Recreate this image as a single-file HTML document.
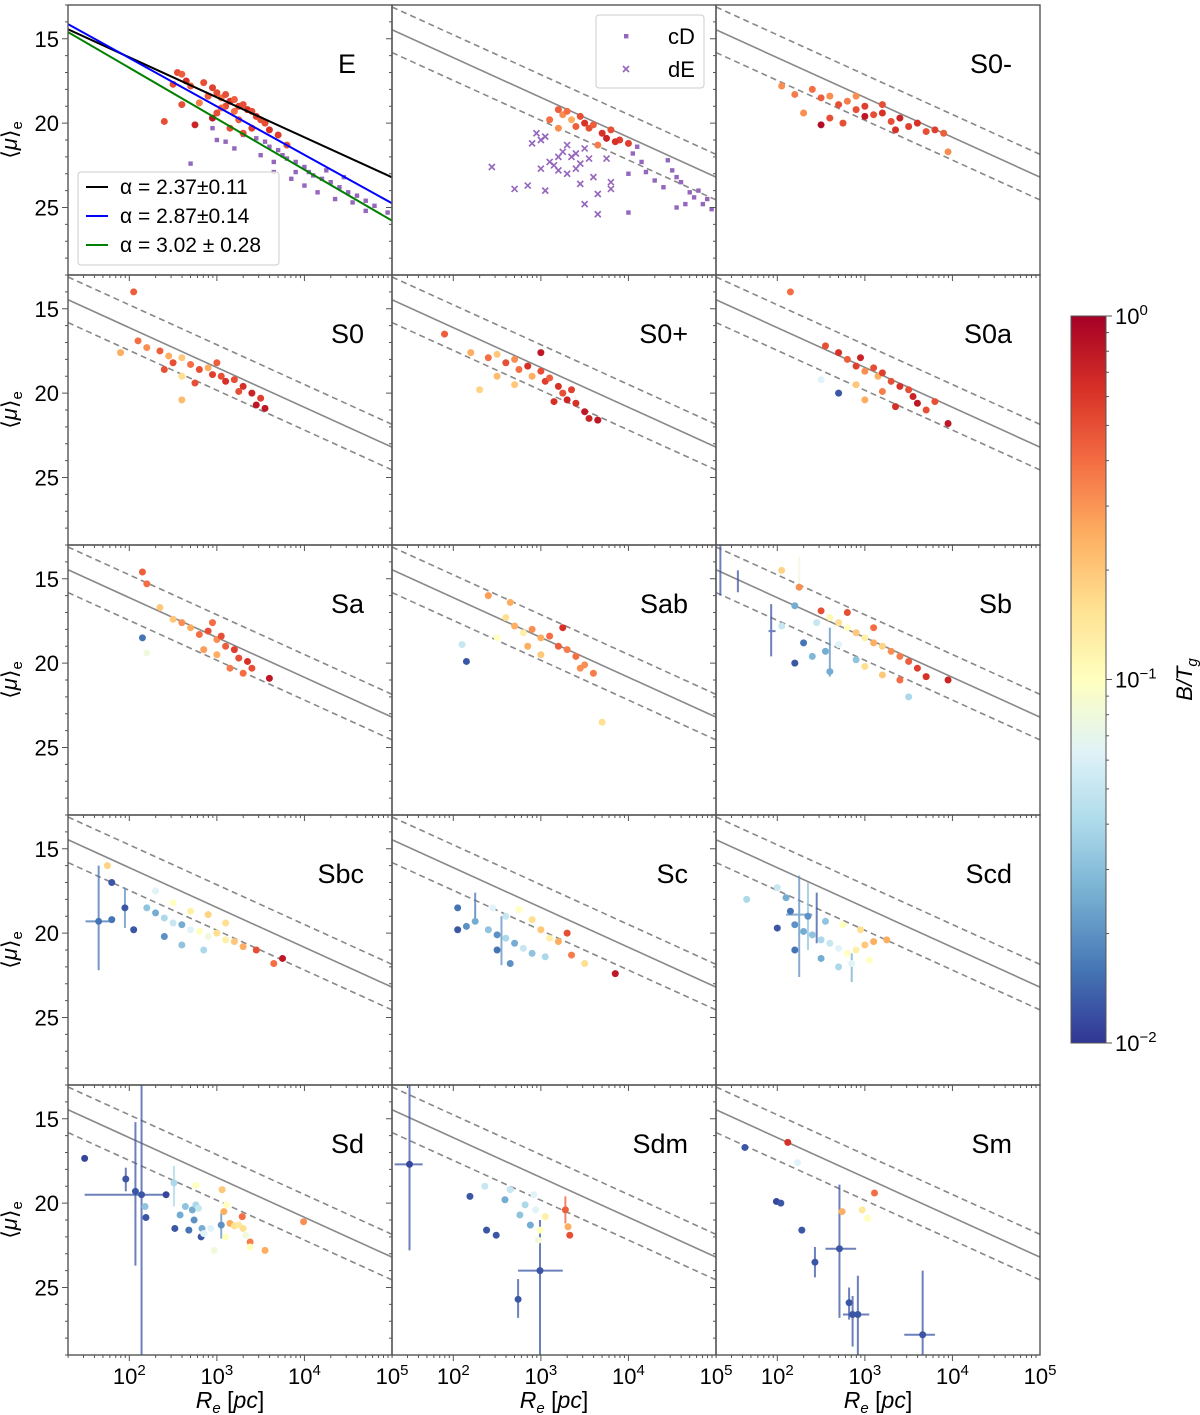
<!DOCTYPE html>
<html><head><meta charset="utf-8"><style>
body{margin:0;background:#fff;}
svg{display:block;font-family:"Liberation Sans","DejaVu Sans",sans-serif;}
</style></head><body>
<svg id="fig" width="1200" height="1415" viewBox="0 0 1200 1415" xmlns="http://www.w3.org/2000/svg">
<defs>
<linearGradient id="cmap" x1="0" y1="1" x2="0" y2="0">
<stop offset="0" stop-color="#313695"/><stop offset="0.1" stop-color="#4575b4"/><stop offset="0.2" stop-color="#74add1"/><stop offset="0.3" stop-color="#abd9e9"/><stop offset="0.4" stop-color="#e0f3f8"/><stop offset="0.5" stop-color="#ffffbf"/><stop offset="0.6" stop-color="#fee090"/><stop offset="0.7" stop-color="#fdae61"/><stop offset="0.8" stop-color="#f46d43"/><stop offset="0.9" stop-color="#d73027"/><stop offset="1" stop-color="#a50026"/>
</linearGradient>
</defs>
</svg>
<script>
// ---- data: [log10 Re, <mu>_e, log10 B/T] ----
const panelNames=["E","dE-cD","S0-","S0","S0+","S0a","Sa","Sab","Sb","Sbc","Sc","Scd","Sd","Sdm","Sm"];
const ptsE=[[2.55,17.0,-0.3],[2.6,17.1,-0.35],[2.5,17.7,-0.3],[2.65,17.5,-0.2],[2.7,17.8,-0.35],[2.85,17.6,-0.3],[2.95,17.9,-0.25],[3.0,18.2,-0.3],[3.05,18.5,-0.4],[3.1,18.3,-0.3],[3.15,18.7,-0.2],[3.2,18.6,-0.35],[3.25,19.0,-0.25],[3.3,18.9,-0.3],[3.35,19.2,-0.2],[3.4,19.3,-0.3],[3.45,19.6,-0.25],[3.5,19.8,-0.3],[3.2,19.3,-0.4],[3.1,19.0,-0.3],[2.9,18.4,-0.35],[2.8,18.8,-0.45],[3.0,19.4,-0.3],[3.15,20.3,-0.3],[3.3,20.6,-0.3],[3.6,20.4,-0.2],[3.7,20.7,-0.25],[3.8,21.3,-0.3],[2.75,20.1,-0.15],[2.4,19.9,-0.3],[2.6,18.9,-0.3],[3.4,20.3,-0.25],[3.55,20.0,-0.3],[3.25,19.8,-0.35],[2.95,19.7,-0.1],[3.05,19.1,-0.4]];
const cdE=[[3.3,20.7],[3.45,20.9],[3.55,21.1],[3.6,21.4],[3.7,21.6],[3.75,21.9],[3.8,22.1],[3.9,22.3],[4.0,22.6],[4.05,22.9],[4.1,23.1],[4.2,23.3],[4.3,23.5],[4.4,23.8],[4.5,24.1],[4.6,24.3],[4.7,24.6],[4.8,24.9],[4.95,25.3],[3.5,21.9],[3.65,22.3],[3.85,23.3],[4.0,23.7],[4.15,24.1],[4.35,24.5],[4.55,24.7],[3.2,21.5],[3.1,21.1],[2.95,20.3],[3.0,21.0],[2.7,22.4],[3.9,22.9],[4.25,22.8],[3.65,22.9],[4.45,23.2],[4.7,25.2]];
const ptsDE=[[3.2,19.2,-0.35],[3.25,19.5,-0.5],[3.3,19.3,-0.4],[3.35,19.8,-0.6],[3.45,19.6,-0.3],[3.5,20.0,-0.2],[3.55,20.3,-0.3],[3.6,20.1,-0.35],[3.7,20.6,-0.2],[3.75,20.9,-0.15],[3.8,20.4,-0.3],[3.9,21.0,-0.25],[3.4,20.2,-0.35],[3.65,21.3,-0.45],[3.1,19.8,-0.4],[3.2,20.3,-0.5],[3.85,21.1,-0.2],[4.0,21.2,-0.25]];
const dEpts=[[2.44,22.6],[2.7,23.9],[2.85,23.7],[2.9,21.2],[2.95,20.6],[3.0,21.0],[3.05,20.8],[3.1,22.3],[3.2,22.8],[3.25,21.7],[3.3,21.3],[3.35,22.0],[3.4,22.7],[3.45,23.6],[3.5,21.5],[3.55,22.1],[3.6,23.2],[3.3,23.0],[3.15,22.5],[3.0,22.7],[3.65,24.2],[3.75,22.1],[3.8,23.5],[3.05,24.0],[3.2,22.0],[3.5,24.8],[3.65,25.4],[3.8,23.9],[3.4,21.8],[3.45,22.4]];
const cdB=[[4.05,21.8],[4.1,21.4],[4.15,22.3],[4.2,22.9],[4.3,23.4],[4.45,22.2],[4.5,22.8],[4.55,23.2],[4.6,23.5],[4.7,24.1],[4.75,24.4],[4.8,24.0],[4.85,24.8],[4.9,24.5],[4.95,25.1],[4.65,24.8],[4.4,23.8],[4.55,25.0],[4.0,25.3],[4.0,23.0]];
const ptsS0m=[[2.05,17.8,-0.5],[2.2,18.3,-0.45],[2.4,18.0,-0.4],[2.5,18.5,-0.35],[2.6,18.4,-0.5],[2.7,18.9,-0.3],[2.8,18.7,-0.45],[2.9,19.2,-0.3],[3.0,19.0,-0.25],[3.1,19.5,-0.3],[3.2,19.4,-0.2],[3.3,19.9,-0.3],[3.4,19.7,-0.15],[3.5,20.2,-0.25],[3.6,20.0,-0.2],[3.7,20.5,-0.3],[3.8,20.4,-0.25],[3.9,20.6,-0.35],[3.0,19.6,-0.1],[3.2,18.9,-0.3],[2.9,18.4,-0.5],[2.6,19.7,-0.3],[2.5,20.1,-0.05],[3.95,21.7,-0.5],[2.3,19.4,-0.5],[3.35,20.4,-0.2],[2.75,20.0,-0.3]];
const ptsS0=[[1.9,17.6,-0.6],[2.1,16.9,-0.4],[2.2,17.3,-0.5],[2.35,17.5,-0.35],[2.45,17.8,-0.6],[2.5,18.2,-0.3],[2.6,17.9,-0.7],[2.7,18.3,-0.4],[2.8,18.6,-0.3],[2.9,18.5,-0.6],[2.95,18.9,-0.25],[3.05,19.0,-0.3],[3.1,19.3,-0.2],[3.2,19.2,-0.3],[3.3,19.6,-0.2],[3.4,20.0,-0.15],[3.5,20.3,-0.25],[3.55,20.9,-0.1],[3.45,20.7,-0.1],[2.75,19.4,-0.3],[2.6,19.0,-0.8],[2.6,20.4,-0.65],[2.4,18.6,-0.3],[3.0,18.2,-0.35],[3.25,19.9,-0.3],[2.05,14.0,-0.35]];
const ptsS0p=[[1.9,16.5,-0.35],[2.2,17.6,-0.6],[2.4,17.9,-0.4],[2.5,17.7,-0.7],[2.6,18.2,-0.3],[2.7,18.0,-0.5],[2.75,18.6,-0.4],[2.85,18.4,-0.2],[2.9,19.0,-0.6],[3.0,18.7,-0.3],[3.05,19.3,-0.25],[3.1,19.1,-0.35],[3.2,19.6,-0.2],[3.25,20.0,-0.3],[3.3,20.4,-0.15],[3.4,20.6,-0.2],[3.5,21.1,-0.1],[3.55,21.5,-0.15],[3.65,21.6,-0.1],[3.35,19.8,-0.25],[3.0,17.6,-0.1],[2.5,19.0,-0.65],[2.3,19.8,-0.75],[2.7,19.5,-0.7],[3.15,20.5,-0.2]];
const ptsS0a=[[2.15,14.0,-0.4],[2.55,17.2,-0.3],[2.7,17.6,-0.2],[2.8,18.0,-0.35],[2.9,18.4,-0.25],[2.95,17.9,-0.15],[3.0,18.7,-0.5],[3.1,18.5,-0.3],[3.15,19.0,-0.6],[3.2,18.8,-0.25],[3.3,19.3,-0.3],[3.4,19.6,-0.2],[3.5,19.8,-0.3],[3.55,20.2,-0.15],[3.6,20.6,-0.1],[3.7,21.0,-0.3],[3.95,21.8,-0.1],[2.7,20.0,-1.9],[2.9,19.5,-0.7],[3.0,20.4,-0.6],[3.2,19.9,-0.45],[3.35,20.8,-0.2],[2.5,19.2,-1.2],[3.8,20.5,-0.3]];
const ptsSa=[[2.15,14.6,-0.35],[2.2,15.3,-0.4],[2.35,16.7,-0.7],[2.15,18.5,-1.8],[2.2,19.4,-1.1],[2.5,17.4,-0.7],[2.6,17.6,-0.5],[2.7,17.9,-0.6],[2.8,18.3,-0.4],[2.9,18.1,-0.3],[3.0,18.6,-0.5],[3.05,18.4,-0.3],[3.1,19.0,-0.35],[3.2,19.2,-0.25],[3.25,19.7,-0.3],[3.35,19.9,-0.2],[3.4,20.3,-0.3],[3.3,20.6,-0.4],[3.0,19.5,-0.6],[2.85,19.2,-0.55],[3.6,20.9,-0.1],[2.95,17.6,-0.4],[3.15,20.3,-0.45]];
const ptsSab=[[2.4,16.0,-0.55],[2.65,16.4,-0.6],[2.6,17.3,-0.8],[2.7,17.8,-0.6],[2.8,18.2,-0.9],[2.9,18.0,-0.5],[3.0,18.5,-0.6],[3.1,18.4,-0.4],[3.2,19.0,-0.35],[3.3,19.2,-0.45],[3.4,19.6,-0.4],[3.5,20.1,-0.5],[3.6,20.6,-0.45],[2.1,18.9,-1.3],[2.15,19.9,-1.9],[2.5,18.5,-1.0],[2.85,19.0,-0.6],[3.0,19.5,-0.7],[3.25,17.9,-0.2],[3.7,23.5,-0.8],[3.45,20.3,-0.5]];
const ptsSb=[[2.05,14.5,-0.75],[2.25,15.5,-0.5],[2.2,16.6,-1.6],[2.5,16.9,-0.3],[2.6,17.3,-0.95],[2.7,17.6,-0.8],[2.8,17.9,-1.0],[2.9,18.2,-0.7],[3.0,18.5,-0.9],[3.1,18.8,-0.6],[3.2,19.0,-0.75],[3.3,19.3,-0.5],[3.4,19.6,-0.45],[3.5,19.9,-0.35],[3.6,20.3,-0.25],[3.7,20.8,-0.2],[2.05,17.8,-1.3],[2.3,18.8,-1.8],[2.4,19.6,-1.55],[2.55,19.3,-1.6],[2.7,18.9,-1.2],[2.9,19.8,-1.5],[3.0,20.2,-0.8],[2.6,20.5,-1.6],[2.2,20.0,-1.9],[3.2,20.7,-0.7],[3.4,21.0,-0.4],[3.5,22.0,-1.4],[3.95,21.0,-0.15],[2.8,17.0,-0.3],[3.1,17.9,-0.4],[2.45,17.6,-1.3]];
const ptsSbc=[[1.75,16.0,-0.75],[1.8,17.0,-1.9],[1.95,18.5,-1.9],[1.8,19.2,-1.8],[2.05,19.8,-1.9],[1.65,19.3,-1.8],[2.2,18.5,-1.5],[2.3,18.8,-1.6],[2.4,19.1,-1.4],[2.5,19.4,-1.3],[2.6,19.5,-1.6],[2.7,19.8,-1.2],[2.8,19.9,-1.0],[2.9,20.2,-1.1],[3.0,20.0,-0.8],[3.1,20.4,-0.9],[3.2,20.5,-0.7],[3.3,20.8,-0.6],[3.45,21.0,-0.3],[3.65,21.8,-0.4],[3.75,21.5,-0.1],[2.3,17.5,-1.2],[2.5,18.2,-1.0],[2.7,18.7,-0.9],[2.9,18.9,-0.75],[3.1,19.4,-0.8],[2.4,20.2,-1.7],[2.6,20.7,-1.5],[2.85,21.0,-1.4]];
const ptsSc=[[2.05,18.5,-1.8],[2.05,19.8,-1.9],[2.15,19.6,-1.7],[2.25,19.3,-1.6],[2.4,19.8,-1.5],[2.5,20.1,-1.7],[2.6,20.3,-1.4],[2.7,20.6,-1.6],[2.8,20.9,-1.3],[2.9,21.2,-1.5],[2.6,19.0,-1.3],[2.75,18.6,-1.0],[2.9,19.2,-0.8],[3.0,19.8,-0.7],[3.1,20.3,-0.9],[3.2,20.5,-0.6],[3.35,21.3,-0.45],[3.5,21.8,-0.8],[3.85,22.4,-0.1],[2.5,21.0,-1.8],[2.65,21.8,-1.7],[2.45,18.5,-1.2],[3.05,21.4,-1.4],[3.3,20.0,-0.3]];
const ptsScd=[[1.65,18.0,-1.4],[2.0,17.3,-1.3],[2.1,17.9,-1.6],[2.15,18.7,-1.8],[2.0,19.7,-1.9],[2.2,19.5,-1.7],[2.3,19.9,-1.6],[2.4,20.1,-1.5],[2.5,20.4,-1.4],[2.6,20.6,-1.3],[2.7,20.9,-1.2],[2.8,21.2,-1.0],[2.9,21.0,-0.9],[3.0,20.7,-0.7],[3.1,20.5,-0.6],[3.25,20.4,-0.6],[2.35,19.0,-1.7],[2.55,19.3,-1.5],[2.75,19.5,-1.0],[2.95,19.8,-0.8],[2.5,21.5,-1.6],[2.7,22.0,-1.4],[2.85,21.8,-1.2],[3.05,21.6,-1.0],[2.2,21.0,-1.8]];
const ptsSd=[[1.49,17.35,-1.95],[1.96,18.57,-1.9],[2.07,19.3,-1.9],[2.14,19.5,-1.9],[2.42,19.5,-1.95],[2.19,20.85,-1.9],[2.18,20.2,-1.5],[2.51,18.8,-1.4],[2.52,21.5,-1.9],[2.58,20.7,-1.6],[2.64,20.2,-1.5],[2.72,20.4,-1.6],[2.74,21.0,-1.7],[2.76,20.1,-1.4],[2.79,20.3,-1.3],[2.76,18.95,-1.0],[2.82,22.0,-1.9],[2.83,21.5,-1.6],[2.68,21.6,-1.8],[2.85,21.8,-1.2],[2.93,21.5,-1.2],[2.97,22.8,-1.1],[3.05,21.3,-1.7],[3.06,19.2,-0.7],[3.08,20.5,-0.6],[3.1,22.0,-1.0],[3.11,20.1,-1.0],[3.15,21.2,-0.6],[3.2,21.35,-0.8],[3.25,21.3,-0.85],[3.3,21.5,-0.8],[3.29,20.8,-0.4],[3.33,21.9,-1.1],[3.38,22.3,-0.45],[3.38,22.6,-1.0],[3.55,22.8,-0.6],[3.99,21.1,-0.5]];
const ptsSdm=[[1.5,17.7,-1.95],[2.19,19.6,-1.9],[2.36,19.0,-1.3],[2.38,21.6,-1.9],[2.49,21.9,-1.9],[2.59,19.8,-1.6],[2.65,19.2,-1.3],[2.76,20.7,-1.5],[2.82,20.1,-1.4],[2.88,21.3,-1.6],[2.94,20.4,-1.2],[2.99,21.6,-1.0],[3.05,20.8,-0.9],[2.97,22.2,-1.1],[2.92,19.5,-1.2],[2.74,25.7,-1.9],[2.99,24.0,-1.9],[3.28,20.4,-0.35],[3.31,21.4,-0.6],[3.33,21.9,-0.3]];
const ptsSm=[[1.63,16.7,-1.9],[2.12,16.4,-0.2],[2.23,17.6,-1.2],[1.99,19.9,-1.95],[2.04,20.0,-1.9],[2.28,21.6,-1.9],[2.43,23.5,-1.9],[2.71,22.7,-1.9],[2.74,20.5,-0.6],[2.82,25.9,-1.9],[2.86,26.6,-1.9],[2.92,26.6,-1.9],[2.97,20.4,-0.85],[3.03,20.9,-1.0],[3.11,19.4,-0.4],[3.66,27.8,-1.9]];
// error bars: [log Re, mu, muLo, muHi, logRlo, logRhi, logBT]
const errSb=[[1.35,14.4,13.0,16.0,1.35,1.35,-1.9],[1.55,15.1,14.5,15.8,1.55,1.55,-1.9],[1.93,18.1,16.5,19.6,1.9,1.98,-1.9],[2.25,14.5,13.7,15.3,2.25,2.25,-1.1],[2.6,19.3,17.9,20.8,2.6,2.6,-1.7]];
const errSbc=[[1.65,19.3,16.0,22.2,1.5,1.8,-1.8],[1.95,18.5,17.3,19.7,1.95,1.95,-1.7]];
const errSc=[[2.25,18.5,17.6,19.4,2.25,2.25,-1.8],[2.55,20.6,19.0,21.9,2.55,2.55,-1.7]];
const errScd=[[2.25,18.9,16.6,22.6,2.1,2.4,-1.7],[2.35,18.6,17.0,21.0,2.35,2.35,-1.5],[2.45,19.1,17.6,20.6,2.45,2.45,-1.9],[2.85,22.1,21.2,22.9,2.85,2.85,-1.6]];
const errSd=[[2.14,19.5,13.0,29.2,2.14,2.14,-1.9],[1.96,19.5,19.5,19.5,1.49,2.42,-1.9],[2.07,19.3,15.2,23.7,2.07,2.07,-1.9],[1.96,18.57,17.9,19.3,1.96,1.96,-1.9],[2.51,18.8,17.8,20.2,2.51,2.51,-1.4],[3.05,21.3,20.6,22.1,3.05,3.05,-1.7]];
const errSdm=[[1.5,17.7,13.0,22.8,1.33,1.65,-1.9],[2.99,24.0,21.0,29.0,2.74,3.25,-1.9],[2.74,25.7,24.5,26.8,2.74,2.74,-1.9],[3.28,20.4,19.6,21.2,3.28,3.28,-0.35]];
const errSm=[[2.71,22.7,18.9,26.8,2.55,2.9,-1.9],[2.86,26.6,25.5,28.5,2.86,2.86,-1.9],[2.92,26.6,24.3,29.0,2.75,3.05,-1.9],[2.82,25.9,25.0,26.9,2.82,2.82,-1.9],[3.66,27.8,24.0,29.0,3.45,3.8,-1.9],[2.43,23.5,22.6,24.4,2.43,2.43,-1.9]];
const fitSlopes=[2.37,2.87,3.02];
const fitIntercepts=[11.36,10.4,10.68];
const fitLabels=["α = 2.37±0.11","α = 2.87±0.14","α = 3.02 ± 0.28"];
const fitColors=["#000000","#0000ff","#008000"];
const refSlope=2.36, refIntercept=11.4, refOffset=1.35;
const xTickVals=[2,3,4,5];
const yTickVals=[15,20,25];
const cbTickVals=[0,-1,-2];

const NS="http://www.w3.org/2000/svg";
const svg=document.getElementById('fig');
const PW=324,PH=270,X0=68,Y0=5;
const XMIN=1.3,XMAX=5,YMIN=13,YMAX=29;
function mk(tag,attrs,parent){const e=document.createElementNS(NS,tag);for(const k in attrs)e.setAttribute(k,attrs[k]);(parent||svg).appendChild(e);return e;}
const stops=["#313695","#4575b4","#74add1","#abd9e9","#e0f3f8","#ffffbf","#fee090","#fdae61","#f46d43","#d73027","#a50026"];
function hx(c){return [1,3,5].map(i=>parseInt(c.substr(i,2),16));}
function cmap(v){let t=Math.max(0,Math.min(1,(v+2)/2))*10;const i=Math.min(9,Math.floor(t)),f=t-i;const a=hx(stops[i]),b=hx(stops[i+1]);return "rgb("+a.map((x,k)=>Math.round(x+(b[k]-x)*f)).join(",")+")";}

const panelPts=[ptsE,ptsDE,ptsS0m,ptsS0,ptsS0p,ptsS0a,ptsSa,ptsSab,ptsSb,ptsSbc,ptsSc,ptsScd,ptsSd,ptsSdm,ptsSm];
const panelErr=[[],[],[],[],[],[],[],[],errSb,errSbc,errSc,errScd,errSd,errSdm,errSm];
const panelLabels=["E","","S0-","S0","S0+","S0a","Sa","Sab","Sb","Sbc","Sc","Scd","Sd","Sdm","Sm"];

panelNames.forEach((nm,i)=>{
  const c=i%3,r=Math.floor(i/3);
  const x0=X0+PW*c,y0=Y0+PH*r;
  const sx=l=>x0+(l-XMIN)/(XMAX-XMIN)*PW;
  const sy=m=>y0+(m-YMIN)/(YMAX-YMIN)*PH;
  const g=mk('g',{});
  
  
  const cp=mk('clipPath',{id:'cp'+i},g);mk('rect',{x:x0,y:y0,width:PW,height:PH},cp);
  const inner=mk('g',{'clip-path':'url(#cp'+i+')'},g);
  if(i>0){
    [[-refOffset,'6,4'],[0,''],[refOffset,'6,4']].forEach(([o,d],k)=>{
      const ln=mk('line',{x1:sx(XMIN),y1:sy(refSlope*XMIN+refIntercept+o),x2:sx(XMAX),y2:sy(refSlope*XMAX+refIntercept+o),stroke:'#888','stroke-width':1.6,'stroke-dasharray':d},inner);
      
      
    });
  }
  if(i===0){
    cdE.forEach(p=>{const s=mk('rect',{x:sx(p[0])-2.2,y:sy(p[1])-2.2,width:4.4,height:4.4,fill:'#9467bd'},inner);
      });
  }
  if(i===1){
    dEpts.forEach(p=>{const X=sx(p[0]),Y=sy(p[1]);const s=mk('path',{d:`M${X-3} ${Y-3}L${X+3} ${Y+3}M${X-3} ${Y+3}L${X+3} ${Y-3}`,stroke:'#9467bd','stroke-width':1.6},inner);
      });
    cdB.forEach(p=>{const s=mk('rect',{x:sx(p[0])-2.2,y:sy(p[1])-2.2,width:4.4,height:4.4,fill:'#9467bd'},inner);
      });
  }
  panelErr[i].forEach(e=>{
    const col=cmap(e[6]);
    const a=mk('path',{d:`M${sx(e[0])} ${sy(e[2])}V${sy(e[3])}M${sx(e[4])} ${sy(e[1])}H${sx(e[5])}`,stroke:col,'stroke-width':2,opacity:0.75},inner);
    
  });
  panelPts[i].forEach(p=>{
    const d=mk('circle',{cx:sx(p[0]),cy:sy(p[1]),r:3.5,fill:cmap(p[2])},inner);
    
  });
  if(i===0){
    fitSlopes.forEach((s,k)=>{
      const ln=mk('line',{x1:sx(XMIN),y1:sy(s*XMIN+fitIntercepts[k]),x2:sx(XMAX),y2:sy(s*XMAX+fitIntercepts[k]),stroke:fitColors[k],'stroke-width':2},inner);
      
    });
    const lg=mk('g',{},g);
    mk('rect',{x:78,y:172,width:201,height:93,rx:3,fill:'#fff',stroke:'#ccc','fill-opacity':0.85},lg);
    fitLabels.forEach((t,k)=>{
      const yy=187+29*k;
      mk('line',{x1:86,y1:yy,x2:108,y2:yy,stroke:fitColors[k],'stroke-width':2},lg);
      const tx=mk('text',{x:120,y:yy+7,'font-size':21,fill:'#000'},lg);tx.textContent=t;
      
    });
  }
  if(i===1){
    const lg=mk('g',{},g);
    mk('rect',{x:596,y:15,width:108,height:73,rx:3,fill:'#fff',stroke:'#ccc'},lg);
    mk('rect',{x:624,y:34,width:4.4,height:4.4,fill:'#9467bd'},lg);
    mk('path',{d:'M623 66L629 72M623 72L629 66',stroke:'#9467bd','stroke-width':1.6},lg);
    const t1=mk('text',{x:668,y:44,'font-size':22},lg);t1.textContent='cD';
    
    const t2=mk('text',{x:668,y:77,'font-size':22},lg);t2.textContent='dE';
    
  }
  if(panelLabels[i]){
    const t=mk('text',{x:x0+PW-28,y:y0+68,'font-size':27,'text-anchor':'end'},g);
    if(i===0)t.setAttribute('x',x0+PW-36);
    t.textContent=panelLabels[i];
    
  }
  mk('rect',{x:x0,y:y0,width:PW,height:PH,fill:'none',stroke:'#555','stroke-width':1.4},g);
  for(let m=YMIN;m<=YMAX;m++){
    const maj=yTickVals.includes(m);
    mk('line',{x1:x0,x2:x0-(maj?6:3),y1:sy(m),y2:sy(m),stroke:'#555','stroke-width':1},g);
  }
  for(let d=1;d<5;d++)for(let k=1;k<10;k++){
    const l=d+Math.log10(k);if(l<XMIN||l>XMAX)continue;
    mk('line',{x1:sx(l),x2:sx(l),y1:y0+PH,y2:y0+PH+(k===1?6:3),stroke:'#555','stroke-width':1},g);
  }
  if(c===0){
    yTickVals.forEach(v=>{const t=mk('text',{x:x0-9,y:sy(v)+8,'font-size':22,'text-anchor':'end'},g);t.textContent=v;
      });
    const yl=mk('text',{x:0,y:0,'font-size':22,'text-anchor':'middle',transform:`translate(17,${y0+135}) rotate(-90)`},g);
    yl.innerHTML='⟨<tspan font-style="italic">μ</tspan>⟩<tspan font-size="15" dy="5">e</tspan>';
    
  }
  if(r===4){
    xTickVals.forEach(v=>{const t=mk('text',{x:sx(v),y:y0+PH+29,'font-size':22,'text-anchor':'middle'},g);
      t.innerHTML='10<tspan font-size="15" dy="-9">'+v+'</tspan>';
      });
    const xl=mk('text',{x:x0+162,y:1408,'font-size':23,'text-anchor':'middle'},g);
    xl.innerHTML='<tspan font-style="italic">R</tspan><tspan font-size="15" dy="5" font-style="italic">e</tspan><tspan dy="-5"> [</tspan><tspan font-style="italic">pc</tspan>]';
    
  }
});
const CBX=1071,CBY=316,CBW=35,CBH=727;
const cb=mk('g',{});
mk('rect',{x:CBX,y:CBY,width:CBW,height:CBH,fill:'url(#cmap)',stroke:'#555','stroke-width':1},cb);
const cy=v=>CBY+(0-v)/2*CBH;
cbTickVals.forEach(v=>{
  mk('line',{x1:CBX+CBW,x2:CBX+CBW+6,y1:cy(v),y2:cy(v),stroke:'#555'},cb);
  const t=mk('text',{x:CBX+CBW+9,y:cy(v)+8,'font-size':22},cb);
  t.innerHTML='10<tspan font-size="15" dy="-9">'+(v===0?'0':'−'+(-v))+'</tspan>';
  
});
for(let d=-2;d<0;d++)for(let k=2;k<10;k++){const l=d+Math.log10(k);mk('line',{x1:CBX+CBW,x2:CBX+CBW+3,y1:cy(l),y2:cy(l),stroke:'#555'},cb);}
const cbl=mk('text',{x:0,y:0,'font-size':22,'text-anchor':'middle',transform:`translate(1192,${cy(-1)}) rotate(-90)`},cb);
cbl.innerHTML='<tspan font-style="italic">B/T</tspan><tspan font-size="15" dy="5" font-style="italic">g</tspan>';

</script>
</body></html>
